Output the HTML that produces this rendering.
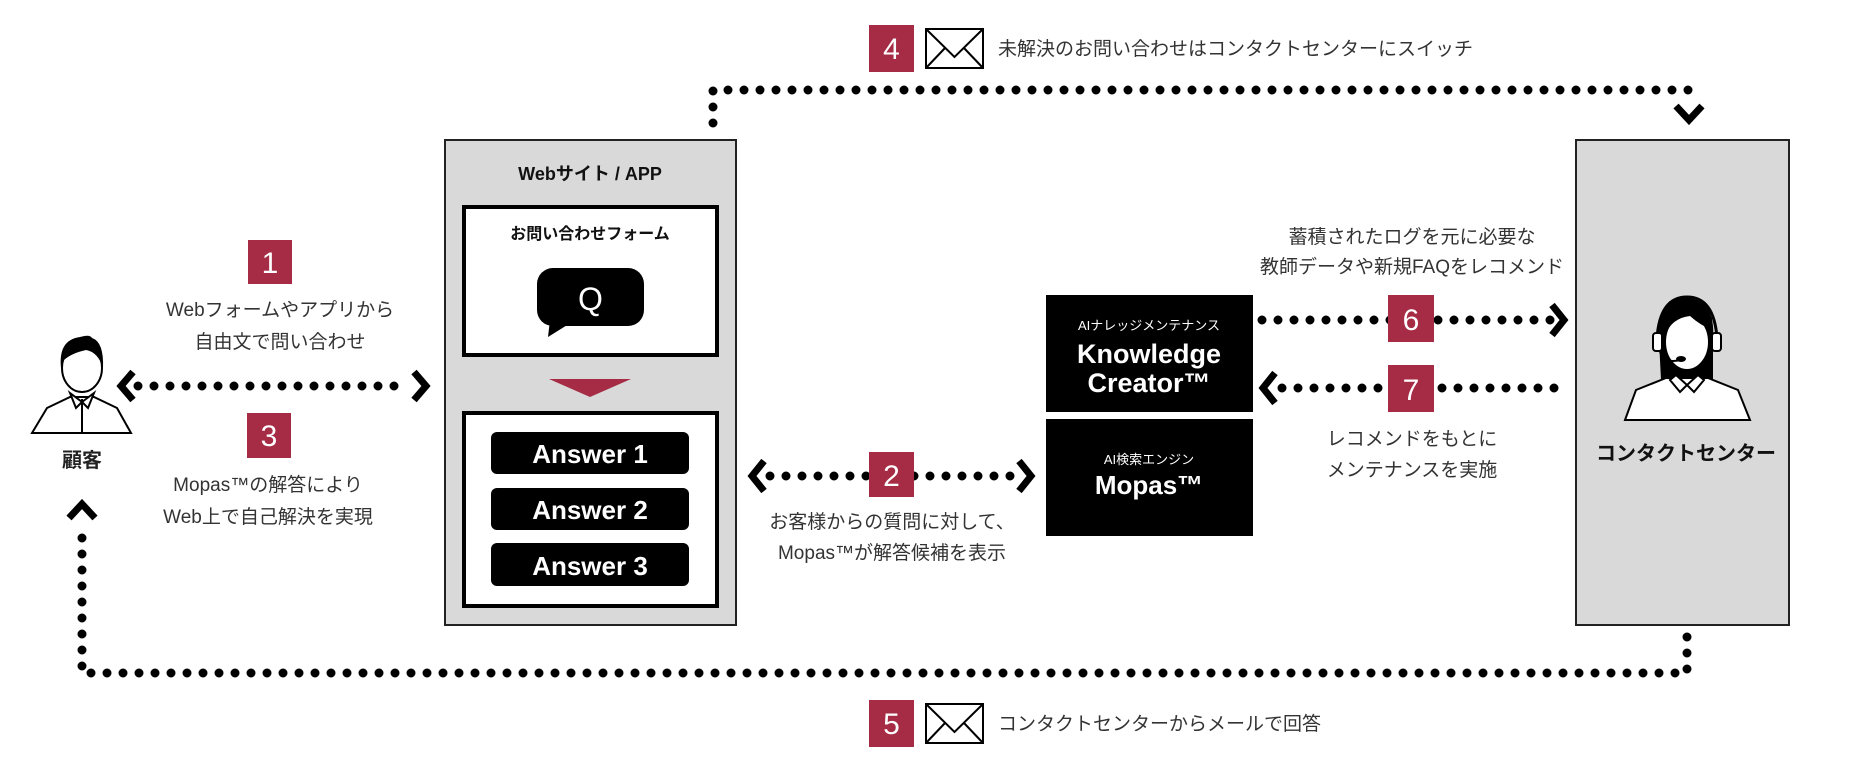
<!DOCTYPE html>
<html><head><meta charset="utf-8"><style>
html,body{margin:0;padding:0;background:#fff;}
svg{display:block;}
text{font-family:"Liberation Sans","Noto Sans CJK JP",sans-serif;}
.t{font-size:19px;fill:#333;}
.n{font-size:30px;fill:#fff;font-family:"Liberation Sans",sans-serif;}
</style></head><body>
<svg width="1866" height="760" viewBox="0 0 1866 760" xmlns="http://www.w3.org/2000/svg">
<defs>
<style>.d{stroke:#000;stroke-width:9;stroke-linecap:round;stroke-dasharray:0 16;fill:none;}
.c{stroke:#000;stroke-width:7;fill:none;stroke-linejoin:miter;}</style>
</defs>
<path class="d" d="M713 123 L713 90 L1689 90"/>
<polyline class="c" points="1676,106 1689,120 1702,106"/>
<path class="d" d="M1687 637 L1687 673 L82 673 L82 522"/>
<polyline class="c" points="69,518 82,504 95,518"/>
<rect x="869" y="25" width="45" height="47" fill="#a62b44"/>
<text class="n" x="891.5" y="59" text-anchor="middle">4</text>
<rect x="926" y="29" width="57" height="39" fill="#fff" stroke="#000" stroke-width="2"/>
<polyline points="926,29 954.5,57 983,29" fill="none" stroke="#000" stroke-width="2"/>
<line x1="926" y1="68" x2="945" y2="48" stroke="#000" stroke-width="2"/><line x1="983" y1="68" x2="964" y2="48" stroke="#000" stroke-width="2"/>
<text class="t" x="998" y="55">未解決のお問い合わせはコンタクトセンターにスイッチ</text>
<rect x="869" y="700" width="45" height="47" fill="#a62b44"/>
<text class="n" x="891.5" y="734" text-anchor="middle">5</text>
<rect x="926" y="704" width="57" height="39" fill="#fff" stroke="#000" stroke-width="2"/>
<polyline points="926,704 954.5,732 983,704" fill="none" stroke="#000" stroke-width="2"/>
<line x1="926" y1="743" x2="945" y2="723" stroke="#000" stroke-width="2"/><line x1="983" y1="743" x2="964" y2="723" stroke="#000" stroke-width="2"/>
<text class="t" x="998" y="730">コンタクトセンターからメールで回答</text>
<path d="M32 433 L47 408 L70 397 L94 397 L117 408 L131 433 Z" fill="#fff" stroke="#000" stroke-width="2"/>
<line x1="82" y1="399" x2="82" y2="433" stroke="#000" stroke-width="2"/>
<path d="M70 393 L82 402 L76 408 Z M94 393 L82 402 L88 408 Z" fill="#fff" stroke="#000" stroke-width="2"/>
<ellipse cx="82" cy="368" rx="20" ry="24" fill="#fff" stroke="#000" stroke-width="2"/>
<path d="M61 368 Q58 340 80 337 Q90 334 92 338 Q104 342 103 368 Q98 352 86 350 Q72 353 64 360 Z" fill="#000"/>
<text x="82" y="467" font-size="20" font-weight="bold" text-anchor="middle" fill="#222">顧客</text>
<line class="d" x1="138" y1="386" x2="410" y2="386"/>
<polyline class="c" points="133,372 121,386 133,400"/>
<polyline class="c" points="414,372 426,386 414,400"/>
<rect x="248" y="240" width="44" height="44" fill="#a62b44"/>
<text class="n" x="270" y="273" text-anchor="middle">1</text>
<text class="t" x="280" y="316" text-anchor="middle">Webフォームやアプリから</text>
<text class="t" x="280" y="348" text-anchor="middle">自由文で問い合わせ</text>
<rect x="247" y="413" width="44" height="45" fill="#a62b44"/>
<text class="n" x="269" y="446" text-anchor="middle">3</text>
<text class="t" x="268" y="491" text-anchor="middle">Mopas™の解答により</text>
<text class="t" x="268" y="523" text-anchor="middle">Web上で自己解決を実現</text>
<rect x="445" y="140" width="291" height="485" fill="#d9d9d9" stroke="#222" stroke-width="2"/>
<text x="590" y="180" font-size="18" font-weight="bold" text-anchor="middle" fill="#111">Webサイト / APP</text>
<rect x="464" y="207" width="253" height="148" fill="#fff" stroke="#000" stroke-width="4"/>
<text x="590" y="239" font-size="16" font-weight="bold" text-anchor="middle" fill="#111">お問い合わせフォーム</text>
<rect x="537" y="268" width="107" height="58" rx="16" fill="#000"/>
<polygon points="550,320 548,337 572,322" fill="#000"/>
<text x="590.5" y="310" font-size="32" text-anchor="middle" fill="#fff">Q</text>
<polygon points="549,379 631,379 590,397" fill="#a62b44"/>
<rect x="464" y="413" width="253" height="193" fill="#fff" stroke="#000" stroke-width="4"/>
<rect x="491" y="432" width="198" height="42" rx="6" fill="#000"/>
<rect x="491" y="488" width="198" height="42" rx="6" fill="#000"/>
<rect x="491" y="543" width="198" height="43" rx="6" fill="#000"/>
<text x="590" y="463" font-size="26" font-weight="bold" text-anchor="middle" fill="#fff">Answer 1</text>
<text x="590" y="519" font-size="26" font-weight="bold" text-anchor="middle" fill="#fff">Answer 2</text>
<text x="590" y="575" font-size="26" font-weight="bold" text-anchor="middle" fill="#fff">Answer 3</text>
<line class="d" x1="770" y1="476" x2="1018" y2="476"/>
<polyline class="c" points="764,461 752,476 764,491"/>
<polyline class="c" points="1019,461 1031,476 1019,491"/>
<rect x="869" y="452" width="45" height="45" fill="#a62b44"/>
<text class="n" x="891.5" y="486" text-anchor="middle">2</text>
<text class="t" x="892" y="528" text-anchor="middle">お客様からの質問に対して、</text>
<text class="t" x="892" y="559" text-anchor="middle">Mopas™が解答候補を表示</text>
<rect x="1046" y="295" width="207" height="117" fill="#000"/>
<text x="1149" y="330" font-size="13" text-anchor="middle" fill="#fff">AIナレッジメンテナンス</text>
<text x="1149" y="363" font-size="27" font-weight="bold" text-anchor="middle" fill="#fff">Knowledge</text>
<text x="1149" y="392" font-size="27" font-weight="bold" text-anchor="middle" fill="#fff">Creator™</text>
<rect x="1046" y="419" width="207" height="117" fill="#000"/>
<text x="1149" y="464" font-size="13" text-anchor="middle" fill="#fff">AI検索エンジン</text>
<text x="1149" y="494" font-size="26" font-weight="bold" text-anchor="middle" fill="#fff">Mopas™</text>
<line class="d" x1="1262" y1="320" x2="1552" y2="320"/>
<polyline class="c" points="1552,305 1564,320 1552,335"/>
<rect x="1388" y="295" width="46" height="47" fill="#a62b44"/>
<text class="n" x="1411" y="330" text-anchor="middle">6</text>
<text class="t" x="1412" y="243" text-anchor="middle">蓄積されたログを元に必要な</text>
<text class="t" x="1412" y="273" text-anchor="middle">教師データや新規FAQをレコメンド</text>
<line class="d" x1="1282" y1="388" x2="1561" y2="388"/>
<polyline class="c" points="1275,373 1263,388 1275,403"/>
<rect x="1388" y="365" width="46" height="47" fill="#a62b44"/>
<text class="n" x="1411" y="400" text-anchor="middle">7</text>
<text class="t" x="1412" y="445" text-anchor="middle">レコメンドをもとに</text>
<text class="t" x="1412" y="476" text-anchor="middle">メンテナンスを実施</text>
<rect x="1576" y="140" width="213" height="485" fill="#d9d9d9" stroke="#222" stroke-width="2"/>
<path d="M1659 340 Q1656 300 1687 298 Q1716 300 1713 340 L1713 380 L1700 385 L1674 385 L1661 380 Z" fill="#000"/>
<path d="M1625 420 L1636 390 L1666 378 L1708 378 L1738 390 L1750 420 Z" fill="#fff" stroke="#000" stroke-width="2"/>
<path d="M1676 375 L1687 385 L1680 392 L1670 380 Z M1698 375 L1687 385 L1694 392 L1704 380 Z" fill="#fff" stroke="#000" stroke-width="2"/>
<ellipse cx="1687" cy="342" rx="22" ry="28" fill="#fff" stroke="#000" stroke-width="2"/>
<path d="M1665 335 Q1672 318 1690 316 Q1700 325 1712 330 L1712 318 Q1700 303 1687 303 Q1666 305 1664 330 Z" fill="#000"/>
<path d="M1657 338 Q1660 297 1687 297 Q1714 297 1717 338" fill="none" stroke="#000" stroke-width="3"/>
<rect x="1653" y="333" width="9" height="18" rx="3" fill="#fff" stroke="#000" stroke-width="2"/>
<rect x="1712" y="333" width="9" height="18" rx="3" fill="#fff" stroke="#000" stroke-width="2"/>
<path d="M1660 352 Q1665 364 1680 360" fill="none" stroke="#000" stroke-width="2"/>
<ellipse cx="1681" cy="359" rx="5" ry="3" fill="#000"/>
<text x="1686" y="460" font-size="20" font-weight="bold" text-anchor="middle" fill="#111">コンタクトセンター</text>
</svg>
</body></html>
